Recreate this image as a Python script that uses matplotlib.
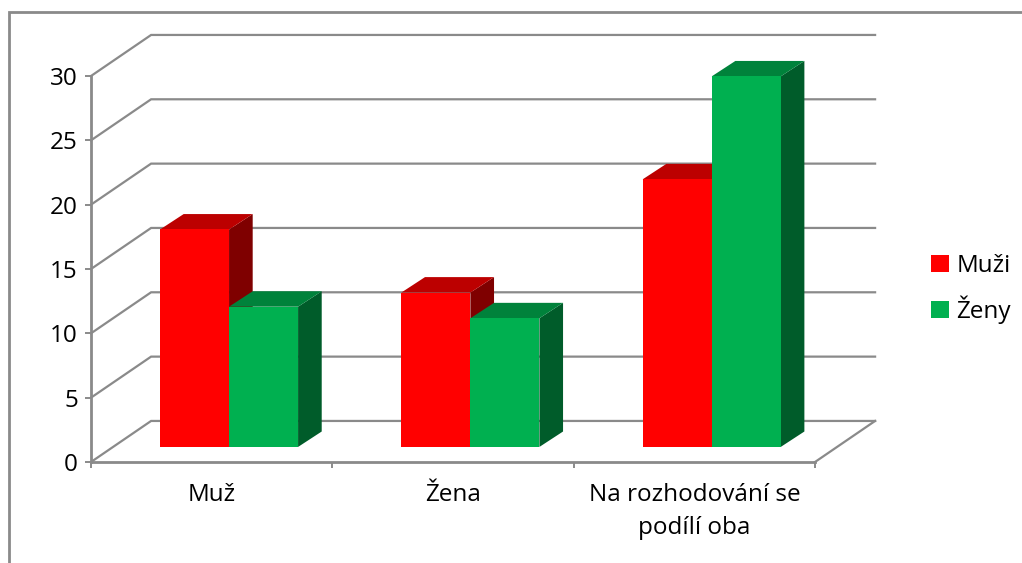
import matplotlib
matplotlib.use('Agg')
import matplotlib.pyplot as plt
from matplotlib.lines import Line2D
from matplotlib.patches import Patch, Polygon

plt.rcParams['font.family'] = ['Open Sans', 'DejaVu Sans']

# values
categories = ['Muž', 'Žena', 'Na rozhodování se\npodílí oba']
muzi = [16.9, 12.0, 20.8]
zeny = [10.9, 10.0, 28.8]
y_ticks = [0, 5, 10, 15, 20, 25, 30]

W, H = 1022, 563
GREY = '#8a8a8a'
RED = ('#ff0000', '#bc0000', '#7f0000')
GREEN = ('#00b050', '#00823b', '#005c2a')

fig = plt.figure(figsize=(W / 100, H / 100), dpi=100)
ax = fig.add_axes([91 / W, 1 - 462 / H, (815 - 91) / W, (462 - 76) / H])
ax.set_xlim(0, 3)
ax.set_ylim(0, 30)
ax.patch.set_visible(False)

# depth of the fake 3d box, in data units
wall_dx, wall_dy = 0.249, 3.19
bar_dx, bar_dy = 0.098, 1.2
floor_y = 1.17
bar_w = 0.286
bar_start = 0.286

# gridlines on the back wall and the side wall
for v in y_ticks:
    back = v + wall_dy
    ax.plot([0, wall_dx, 3 + wall_dx], [v, back, back], color=GREY, lw=1.6,
            clip_on=False, zorder=1, solid_joinstyle='miter')
ax.plot([3, 3 + wall_dx], [0, wall_dy], color=GREY, lw=1.6, clip_on=False, zorder=1)


def draw_bar(x0, value, cols, z):
    x1 = x0 + bar_w
    top = floor_y + value
    ax.add_patch(Polygon([(x1, floor_y), (x1 + bar_dx, floor_y + bar_dy),
                          (x1 + bar_dx, top + bar_dy), (x1, top)],
                         fc=cols[2], ec='none', clip_on=False, zorder=z))
    ax.add_patch(Polygon([(x0, top), (x0 + bar_dx, top + bar_dy),
                          (x1 + bar_dx, top + bar_dy), (x1, top)],
                         fc=cols[1], ec='none', clip_on=False, zorder=z))
    ax.add_patch(Polygon([(x0, floor_y), (x1, floor_y), (x1, top), (x0, top)],
                         fc=cols[0], ec='none', clip_on=False, zorder=z + 0.1))


for i in range(len(categories)):
    draw_bar(i + bar_start, muzi[i], RED, 2 + i)
    draw_bar(i + bar_start + bar_w, zeny[i], GREEN, 2.5 + i)

# axes
for s in ['top', 'right']:
    ax.spines[s].set_visible(False)
for s in ['left', 'bottom']:
    ax.spines[s].set_color(GREY)
    ax.spines[s].set_linewidth(2)
    ax.spines[s].set_zorder(1.5)

ax.set_yticks(y_ticks)
ax.set_yticklabels([str(v) for v in y_ticks], fontsize=17.5, color='black')
ax.tick_params(axis='y', length=4.5, width=1.4, color=GREY, pad=5)
ax.set_xticks([0, 1, 2, 3])
ax.set_xticklabels([])
ax.tick_params(axis='x', which='major', length=4.5, width=1.4, color=GREY)
ax.set_xticks([0.5, 1.5, 2.5], minor=True)
ax.set_xticklabels(categories, minor=True, fontsize=17.5, color='black', linespacing=1.5)
ax.tick_params(axis='x', which='minor', length=0, pad=15)

# legend
handles = [Patch(fc=RED[0], ec='none', label='Muži'), Patch(fc=GREEN[0], ec='none', label='Ženy')]
fig.legend(handles=handles, loc='center left', bbox_to_anchor=(931 / W, 1 - 289 / H),
           frameon=False, fontsize=17.5, handlelength=0.75, handleheight=0.72,
           handletextpad=0.3, labelspacing=0.74, borderpad=0, borderaxespad=0)

# outer chart border, only left and top show
fig.add_artist(Line2D([8.5 / W, 8.5 / W, 1], [0, 1 - 11.5 / H, 1 - 11.5 / H],
                      color=GREY, lw=2, transform=fig.transFigure,
                      solid_joinstyle='miter'))

fig.savefig('out.png', dpi=100)
